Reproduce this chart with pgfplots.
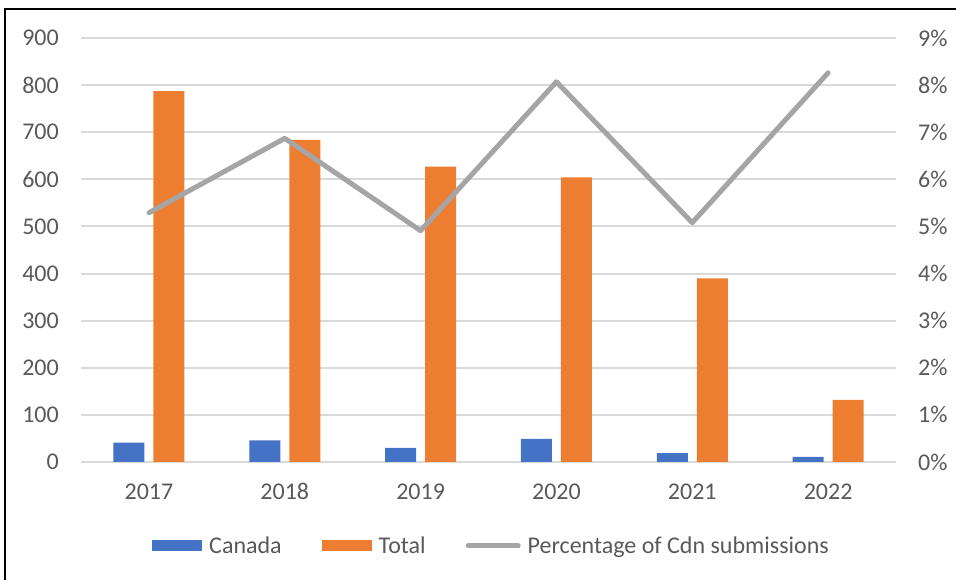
\documentclass[border=0pt]{standalone}
\usepackage{fontspec}
\setmainfont{Carlito}
\usepackage{pgfplots}
\pgfplotsset{compat=1.18}
\definecolor{canadablue}{HTML}{4472C4}
\definecolor{totalorange}{HTML}{ED7D31}
\definecolor{pctgray}{HTML}{A5A5A5}
\definecolor{gridgray}{HTML}{D9D9D9}
\definecolor{labelgray}{HTML}{595959}

\begin{document}
\begin{tikzpicture}[x=1pt,y=1pt]
\useasboundingbox (0,0) rectangle (956,580);
\pgfplotsset{
  common/.style={
    at={(81pt,118pt)}, anchor=south west,
    scale only axis, width=815pt, height=424pt,
    xmin=-0.5, xmax=5.5,
    major tick length=0pt,
    tick style={draw=none},
    axis line style={draw=none},
    ticklabel style={font=\fontsize{24}{28}\selectfont, text=labelgray, inner sep=0pt},
  },
}
\begin{axis}[common,
    ybar=9pt, bar width=31pt,
    ymin=0, ymax=900, ytick={0,100,...,900},
    yticklabel={\pgfmathprintnumber[assume math mode=true]{\tick}},
    yticklabel style={anchor=east, xshift=-22pt},
    xtick=data, xticklabels={2017,2018,2019,2020,2021,2022},
    xticklabel style={anchor=base, yshift=-38pt},
    ymajorgrids, grid style={gridgray, line width=2pt},
    legend columns=-1,
    legend style={at={(0.5025,-0.198)}, anchor=center, draw=none, fill=none,
      font=\fontsize{24}{28}\selectfont, text=labelgray,
      nodes={inner sep=0pt},
      /tikz/every odd column/.append style={column sep=7pt},
      /tikz/every even column/.append style={column sep=40pt}},
]
\addplot[fill=canadablue, draw=none,
  legend image code/.code={\fill[canadablue] (0pt,-5.5pt) rectangle (50pt,5.5pt);}]
  coordinates {(0,41) (1,46) (2,30) (3,49) (4,19) (5,11)};
\addplot[fill=totalorange, draw=none,
  legend image code/.code={\fill[totalorange] (0pt,-5.5pt) rectangle (50pt,5.5pt);}]
  coordinates {(0,787) (1,684) (2,627) (3,604) (4,390) (5,132)};
\addlegendimage{legend image code/.code={\draw[pctgray, line width=5pt, line cap=round] (2pt,0pt) -- (52pt,0pt);}}
\legend{Canada, Total, Percentage of Cdn submissions}
\end{axis}
\begin{axis}[common,
    ymin=0, ymax=9, ytick={0,1,...,9},
    axis y line*=right, axis x line=none,
    yticklabel={\pgfmathprintnumber[assume math mode=true]{\tick}\%},
    yticklabel style={anchor=west, xshift=22pt},
    xtick=\empty,
]
\addplot[pctgray, line width=5pt, line cap=round, line join=round, mark=none]
  coordinates {(0,5.29) (1,6.87) (2,4.91) (3,8.07) (4,5.08) (5,8.26)};
\end{axis}
\draw[black, line width=2pt] (5,0) -- (5,570.5) -- (956,570.5);
\end{tikzpicture}
\end{document}
